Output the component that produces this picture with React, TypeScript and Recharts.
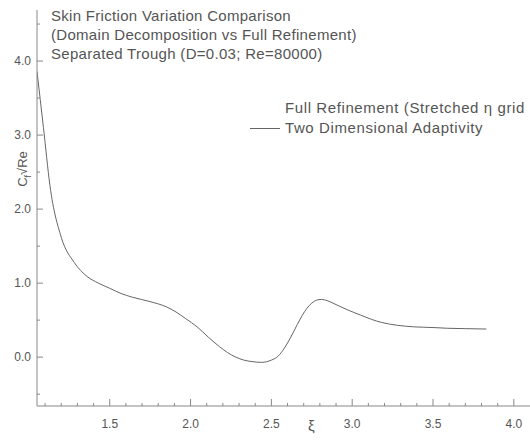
import { LineChart, Line, XAxis, YAxis } from 'recharts';

const xi = [
  1.05, 1.09, 1.13, 1.2, 1.28, 1.36, 1.43, 1.5, 1.57, 1.64, 1.75, 1.85, 1.91, 1.97, 2.04, 2.11,
  2.18, 2.23, 2.28, 2.33, 2.38, 2.44, 2.5, 2.54, 2.58, 2.62, 2.66, 2.69, 2.72, 2.75, 2.78, 2.81,
  2.85, 2.9, 2.97, 3.05, 3.12, 3.18, 3.28, 3.38, 3.5, 3.59, 3.7, 3.83,
];
const cf = [
  3.86, 3.1, 2.32, 1.62, 1.28, 1.09, 1.0, 0.93, 0.86, 0.81, 0.75, 0.68, 0.61, 0.52, 0.41, 0.27,
  0.14, 0.06, 0.0, -0.04, -0.06, -0.07, -0.04, 0.01, 0.12, 0.27, 0.44, 0.56, 0.66, 0.73, 0.77, 0.78,
  0.76, 0.71, 0.64, 0.57, 0.51, 0.47, 0.43, 0.41, 0.4, 0.39, 0.385, 0.38,
];

const xTicks = [
  1.1, 1.2, 1.3, 1.4, 1.5, 1.6, 1.7, 1.8, 1.9, 2.0, 2.1, 2.2, 2.3, 2.4, 2.5, 2.6, 2.7, 2.8, 2.9,
  3.0, 3.1, 3.2, 3.3, 3.4, 3.5, 3.6, 3.7, 3.8, 3.9, 4.0,
];
const xLabels = [1.5, 2.0, 2.5, 3.0, 3.5, 4.0];
const yTicks = [-0.5, 0.0, 0.5, 1.0, 1.5, 2.0, 2.5, 3.0, 3.5, 4.0, 4.5];
const yLabels = [0.0, 1.0, 2.0, 3.0, 4.0];

const data = xi.map((x, i) => ({ xi: x, cf: cf[i] }));

const gray = '#666';
const font = '"Liberation Sans", Arial, sans-serif';

const isLabel = (list: number[], v: number) => list.some((l) => Math.abs(l - v) < 1e-6);

const XTick = (props: any) => {
  const { x, y, payload } = props;
  const major = isLabel(xLabels, payload.value);
  return (
    <g>
      <line x1={x} x2={x} y1={y} y2={y - (major ? 7 : 3)} stroke="#888" />
      {major && (
        <text x={x} y={y + 22} textAnchor="middle" fill="#555" fontSize={12} fontFamily={font}>
          {payload.value.toFixed(1)}
        </text>
      )}
    </g>
  );
};

const YTick = (props: any) => {
  const { x, y, payload } = props;
  const major = isLabel(yLabels, payload.value);
  return (
    <g>
      <line x1={x} x2={x + (major ? 6 : 3)} y1={y} y2={y} stroke="#888" />
      {major && (
        <text x={x - 6} y={y + 4} textAnchor="end" fill="#555" fontSize={12} fontFamily={font}>
          {payload.value.toFixed(1)}
        </text>
      )}
    </g>
  );
};

const App = () => (
  <div style={{ position: 'absolute', left: 0, top: 0, width: 530, height: 441, background: '#fff', overflow: 'hidden' }}>
    <LineChart width={530} height={441} data={data} margin={{ top: 10, right: 0, bottom: 0, left: 0 }}>
      <XAxis
        dataKey="xi"
        type="number"
        domain={[1.05, 4.1]}
        allowDataOverflow
        ticks={xTicks}
        interval={0}
        height={35}
        tickSize={0}
        tickMargin={0}
        tickLine={false}
        tick={<XTick />}
        stroke="#888"
      />
      <YAxis
        type="number"
        domain={[-0.66, 4.69]}
        allowDataOverflow
        ticks={yTicks}
        interval={0}
        width={37}
        tickSize={0}
        tickMargin={0}
        tickLine={false}
        tick={<YTick />}
        stroke="#888"
      />
      <Line
        dataKey="cf"
        type="monotone"
        stroke={gray}
        strokeWidth={1}
        dot={false}
        isAnimationActive={false}
      />
    </LineChart>
    <div
      style={{
        position: 'absolute',
        left: 51,
        top: 6,
        fontFamily: font,
        fontSize: 15,
        letterSpacing: 0.3,
        color: '#555',
        lineHeight: '19px',
        whiteSpace: 'nowrap',
      }}
    >
      <div>Skin Friction Variation Comparison</div>
      <div>(Domain Decomposition vs Full Refinement)</div>
      <div>Separated Trough (D=0.03; Re=80000)</div>
    </div>
    <div
      style={{
        position: 'absolute',
        left: 250,
        top: 98,
        fontFamily: font,
        fontSize: 15,
        letterSpacing: 0.6,
        color: '#555',
        lineHeight: '20px',
        whiteSpace: 'nowrap',
      }}
    >
      <div style={{ paddingLeft: 35 }}>Full Refinement (Stretched η grid</div>
      <div style={{ display: 'flex', alignItems: 'center' }}>
        <span style={{ width: 30, height: 0, borderTop: `1px solid ${gray}`, marginRight: 5 }} />
        Two Dimensional Adaptivity
      </div>
    </div>
    <div
      style={{
        position: 'absolute',
        left: 24,
        top: 169,
        transform: 'translate(-50%, -50%) rotate(-90deg)',
        fontFamily: font,
        fontSize: 13,
        color: '#555',
        whiteSpace: 'nowrap',
      }}
    >
      C<sub style={{ fontSize: 9 }}>f</sub>√Re
    </div>
    <div style={{ position: 'absolute', left: 308, top: 417, fontFamily: font, fontSize: 15, color: '#555' }}>ξ</div>
  </div>
);

export default App;
